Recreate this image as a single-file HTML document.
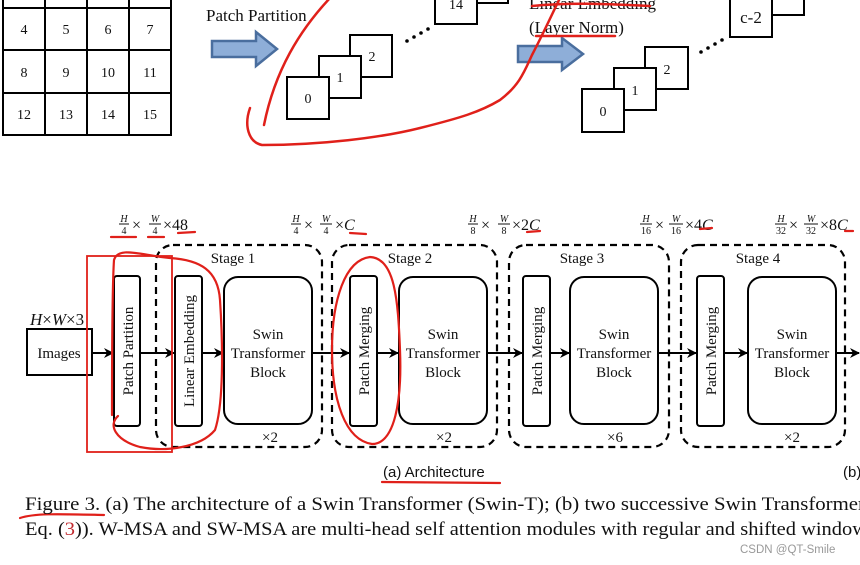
<!DOCTYPE html>
<html><head><meta charset="utf-8"><style>
html,body{margin:0;padding:0;background:#fff;width:860px;height:565px;overflow:hidden}
svg{display:block}
.s{font-family:"Liberation Serif",serif;fill:#111}
.a{font-family:"Liberation Sans",sans-serif;fill:#111}
</style></head><body>
<svg width="860" height="565" viewBox="0 0 860 565" xmlns="http://www.w3.org/2000/svg">
<defs>
<marker id="ar" markerWidth="10" markerHeight="10" refX="9" refY="5" orient="auto" markerUnits="userSpaceOnUse"><path d="M0,0 L10,5 L0,10 L3,5 Z" fill="#000"/></marker>
</defs>
<g stroke="#000" stroke-width="2" fill="none">
<rect x="3" y="-10" width="168" height="145"/>
<line x1="45" y1="-10" x2="45" y2="135"/><line x1="87" y1="-10" x2="87" y2="135"/><line x1="129" y1="-10" x2="129" y2="135"/>
<line x1="3" y1="8" x2="171" y2="8"/><line x1="3" y1="50" x2="171" y2="50"/><line x1="3" y1="93" x2="171" y2="93"/>
</g>
<g class="s" font-size="14" text-anchor="middle">
<text x="24" y="34">4</text><text x="66" y="34">5</text><text x="108" y="34">6</text><text x="150" y="34">7</text>
<text x="24" y="77">8</text><text x="66" y="77">9</text><text x="108" y="77">10</text><text x="150" y="77">11</text>
<text x="24" y="119">12</text><text x="66" y="119">13</text><text x="108" y="119">14</text><text x="150" y="119">15</text>
</g>
<text class="s" x="206" y="21" font-size="17">Patch Partition</text>
<path d="M212,41 H256 V32 L277,49 L256,66 V57 H212 Z" fill="#8eaed8" stroke="#4a6e9e" stroke-width="2.5"/>
<g stroke="#000" stroke-width="2" fill="#fff">
<rect x="435" y="-12" width="73" height="15"/>
<rect x="435" y="-12" width="42" height="36"/>
<rect x="350" y="35" width="42" height="42"/>
<rect x="319" y="56" width="42" height="42"/>
<rect x="287" y="77" width="42" height="42"/>
</g>
<g class="s" font-size="14" text-anchor="middle">
<text x="456" y="9">14</text><text x="372" y="61">2</text><text x="340" y="82">1</text><text x="308" y="103">0</text>
</g>
<g fill="#000"><circle cx="407" cy="41" r="1.8"/><circle cx="414" cy="37" r="1.8"/><circle cx="421" cy="33" r="1.8"/><circle cx="428" cy="29" r="1.8"/></g>
<text class="s" x="529" y="9" font-size="17">Linear Embedding</text>
<text class="s" x="529" y="33" font-size="17">(Layer Norm)</text>
<path d="M518,46 H562 V38 L583,54 L562,70 V62 H518 Z" fill="#8eaed8" stroke="#4a6e9e" stroke-width="2.5"/>
<g stroke="#000" stroke-width="2" fill="#fff">
<rect x="770" y="-12" width="34" height="27"/>
<rect x="730" y="-8" width="42" height="45"/>
<rect x="645" y="47" width="43" height="42"/>
<rect x="614" y="68" width="42" height="42"/>
<rect x="582" y="89" width="42" height="43"/>
</g>
<g class="s" text-anchor="middle">
<text x="751" y="23" font-size="17">c-2</text>
<text x="667" y="74" font-size="14">2</text><text x="635" y="95" font-size="14">1</text><text x="603" y="116" font-size="14">0</text>
</g>
<g fill="#000"><circle cx="701" cy="52" r="1.8"/><circle cx="708" cy="48" r="1.8"/><circle cx="715" cy="44" r="1.8"/><circle cx="722" cy="40" r="1.8"/></g>
<g stroke="#e0201a" stroke-width="2.5" fill="none" stroke-linecap="round">
<path d="M330,-2 C300,30 275,70 264,125"/>
<path d="M250,108 C244,125 248,142 262,145 C320,145 380,138 420,128 C460,118 480,112 500,100 C520,85 525,70 532,55 C545,30 553,12 560,-2"/>
<path d="M532,6 C570,2 610,4 650,6"/>
<path d="M536,36 L615,36"/>
</g>
<g stroke="#000" stroke-width="2.2" fill="none" stroke-dasharray="7,5">
<rect x="156" y="245" width="166" height="202" rx="17"/>
<rect x="332" y="245" width="165" height="202" rx="17"/>
<rect x="509" y="245" width="160" height="202" rx="17"/>
<rect x="681" y="245" width="164" height="202" rx="17"/>
</g>
<g stroke="#000" stroke-width="2" fill="#fff">
<rect x="27" y="329" width="65" height="46"/>
<rect x="114" y="276" width="26" height="150" rx="3"/>
<rect x="175" y="276" width="27" height="150" rx="3"/>
<rect x="224" y="277" width="88" height="147" rx="14"/>
<rect x="350" y="276" width="27" height="150" rx="3"/>
<rect x="399" y="277" width="88" height="147" rx="14"/>
<rect x="523" y="276" width="27" height="150" rx="3"/>
<rect x="570" y="277" width="88" height="147" rx="14"/>
<rect x="697" y="276" width="27" height="150" rx="3"/>
<rect x="748" y="277" width="88" height="147" rx="14"/>
</g>
<g stroke="#000" stroke-width="2" marker-end="url(#ar)">
<line x1="92" y1="353" x2="113" y2="353"/>
<line x1="140" y1="353" x2="174" y2="353"/>
<line x1="202" y1="353" x2="223" y2="353"/>
<line x1="312" y1="353" x2="349" y2="353"/>
<line x1="377" y1="353" x2="398" y2="353"/>
<line x1="487" y1="353" x2="522" y2="353"/>
<line x1="550" y1="353" x2="569" y2="353"/>
<line x1="658" y1="353" x2="696" y2="353"/>
<line x1="724" y1="353" x2="747" y2="353"/>
<line x1="836" y1="353" x2="859" y2="353"/>
</g>
<g class="s" font-size="15">
<text x="59" y="358" text-anchor="middle">Images</text>
<text x="30" y="325" font-style="italic" font-size="17">H<tspan font-style="normal">×</tspan>W<tspan font-style="normal">×3</tspan></text>
<text transform="translate(133,351) rotate(-90)" text-anchor="middle">Patch Partition</text>
<text transform="translate(194,351) rotate(-90)" text-anchor="middle">Linear Embedding</text>
<text transform="translate(369,351) rotate(-90)" text-anchor="middle">Patch Merging</text>
<text transform="translate(542,351) rotate(-90)" text-anchor="middle">Patch Merging</text>
<text transform="translate(716,351) rotate(-90)" text-anchor="middle">Patch Merging</text>
<g text-anchor="middle">
<text x="268" y="339">Swin</text><text x="268" y="358">Transformer</text><text x="268" y="377">Block</text>
<text x="443" y="339">Swin</text><text x="443" y="358">Transformer</text><text x="443" y="377">Block</text>
<text x="614" y="339">Swin</text><text x="614" y="358">Transformer</text><text x="614" y="377">Block</text>
<text x="792" y="339">Swin</text><text x="792" y="358">Transformer</text><text x="792" y="377">Block</text>
<text x="233" y="263">Stage 1</text><text x="410" y="263">Stage 2</text><text x="582" y="263">Stage 3</text><text x="758" y="263">Stage 4</text>
<text x="270" y="442">×2</text><text x="444" y="442">×2</text><text x="615" y="442">×6</text><text x="792" y="442">×2</text>
</g>
</g>
<g class="s" font-size="10" text-anchor="middle">
<text x="124" y="222" font-style="italic">H</text><line x1="119" y1="224" x2="129" y2="224" stroke="#111"/><text x="124" y="234">4</text>
<text x="155" y="222" font-style="italic">W</text><line x1="149" y1="224" x2="161" y2="224" stroke="#111"/><text x="155" y="234">4</text>
<text x="296" y="222" font-style="italic">H</text><line x1="291" y1="224" x2="301" y2="224" stroke="#111"/><text x="296" y="234">4</text>
<text x="326" y="222" font-style="italic">W</text><line x1="320" y1="224" x2="332" y2="224" stroke="#111"/><text x="326" y="234">4</text>
<text x="473" y="222" font-style="italic">H</text><line x1="468" y1="224" x2="478" y2="224" stroke="#111"/><text x="473" y="234">8</text>
<text x="504" y="222" font-style="italic">W</text><line x1="498" y1="224" x2="510" y2="224" stroke="#111"/><text x="504" y="234">8</text>
<text x="646" y="222" font-style="italic">H</text><line x1="640" y1="224" x2="652" y2="224" stroke="#111"/><text x="646" y="234">16</text>
<text x="676" y="222" font-style="italic">W</text><line x1="669" y1="224" x2="683" y2="224" stroke="#111"/><text x="676" y="234">16</text>
<text x="781" y="222" font-style="italic">H</text><line x1="775" y1="224" x2="787" y2="224" stroke="#111"/><text x="781" y="234">32</text>
<text x="811" y="222" font-style="italic">W</text><line x1="804" y1="224" x2="818" y2="224" stroke="#111"/><text x="811" y="234">32</text>
</g>
<g class="s" font-size="16">
<text x="132" y="230">×</text><text x="163" y="230">×48</text>
<text x="304" y="230">×</text><text x="335" y="230">×<tspan font-style="italic">C</tspan></text>
<text x="481" y="230">×</text><text x="512" y="230">×2<tspan font-style="italic">C</tspan></text>
<text x="655" y="230">×</text><text x="685" y="230">×4<tspan font-style="italic">C</tspan></text>
<text x="789" y="230">×</text><text x="820" y="230">×8<tspan font-style="italic">C</tspan></text>
</g>
<text class="a" x="383" y="477" font-size="15">(a) Architecture</text>
<text class="a" x="843" y="477" font-size="15">(b)</text>
<g stroke="#e0201a" stroke-width="2.2" fill="none" stroke-linecap="round">
<rect x="87" y="256" width="85" height="196" stroke-width="1.8"/>
<path d="M111,237 L136,237"/><path d="M148,237 L164,237"/><path d="M178,233 L195,232"/>
<path d="M350,233 L366,234"/><path d="M527,232 L540,231"/><path d="M700,229 L712,228"/><path d="M845,231 L853,231"/>
<path d="M118,416 C108,425 115,440 140,447 C165,452 200,448 215,430 C225,400 222,330 220,300 C218,270 200,260 170,258 C140,255 118,246 114,260 C112,290 112,360 112,415"/>
<path d="M370,257 C345,260 332,300 332,350 C332,400 345,440 372,444 C395,444 402,400 400,350 C398,300 395,258 370,257 Z"/>
<path d="M382,482 L500,483"/>
<path d="M20,518 C35,513 60,514 104,515"/>
</g>
<g class="s" font-size="18.5">
<text x="25" y="510" textLength="840" lengthAdjust="spacingAndGlyphs">Figure 3. (a) The architecture of a Swin Transformer (Swin-T); (b) two successive Swin Transformer</text>
<text x="25" y="535" textLength="850" lengthAdjust="spacingAndGlyphs">Eq. (<tspan fill="#c0282d">3</tspan>)). W-MSA and SW-MSA are multi-head self attention modules with regular and shifted windows</text>
</g>
<text class="a" x="740" y="553" font-size="11.5" style="fill:#999">CSDN @QT-Smile</text>
</svg>
</body></html>
